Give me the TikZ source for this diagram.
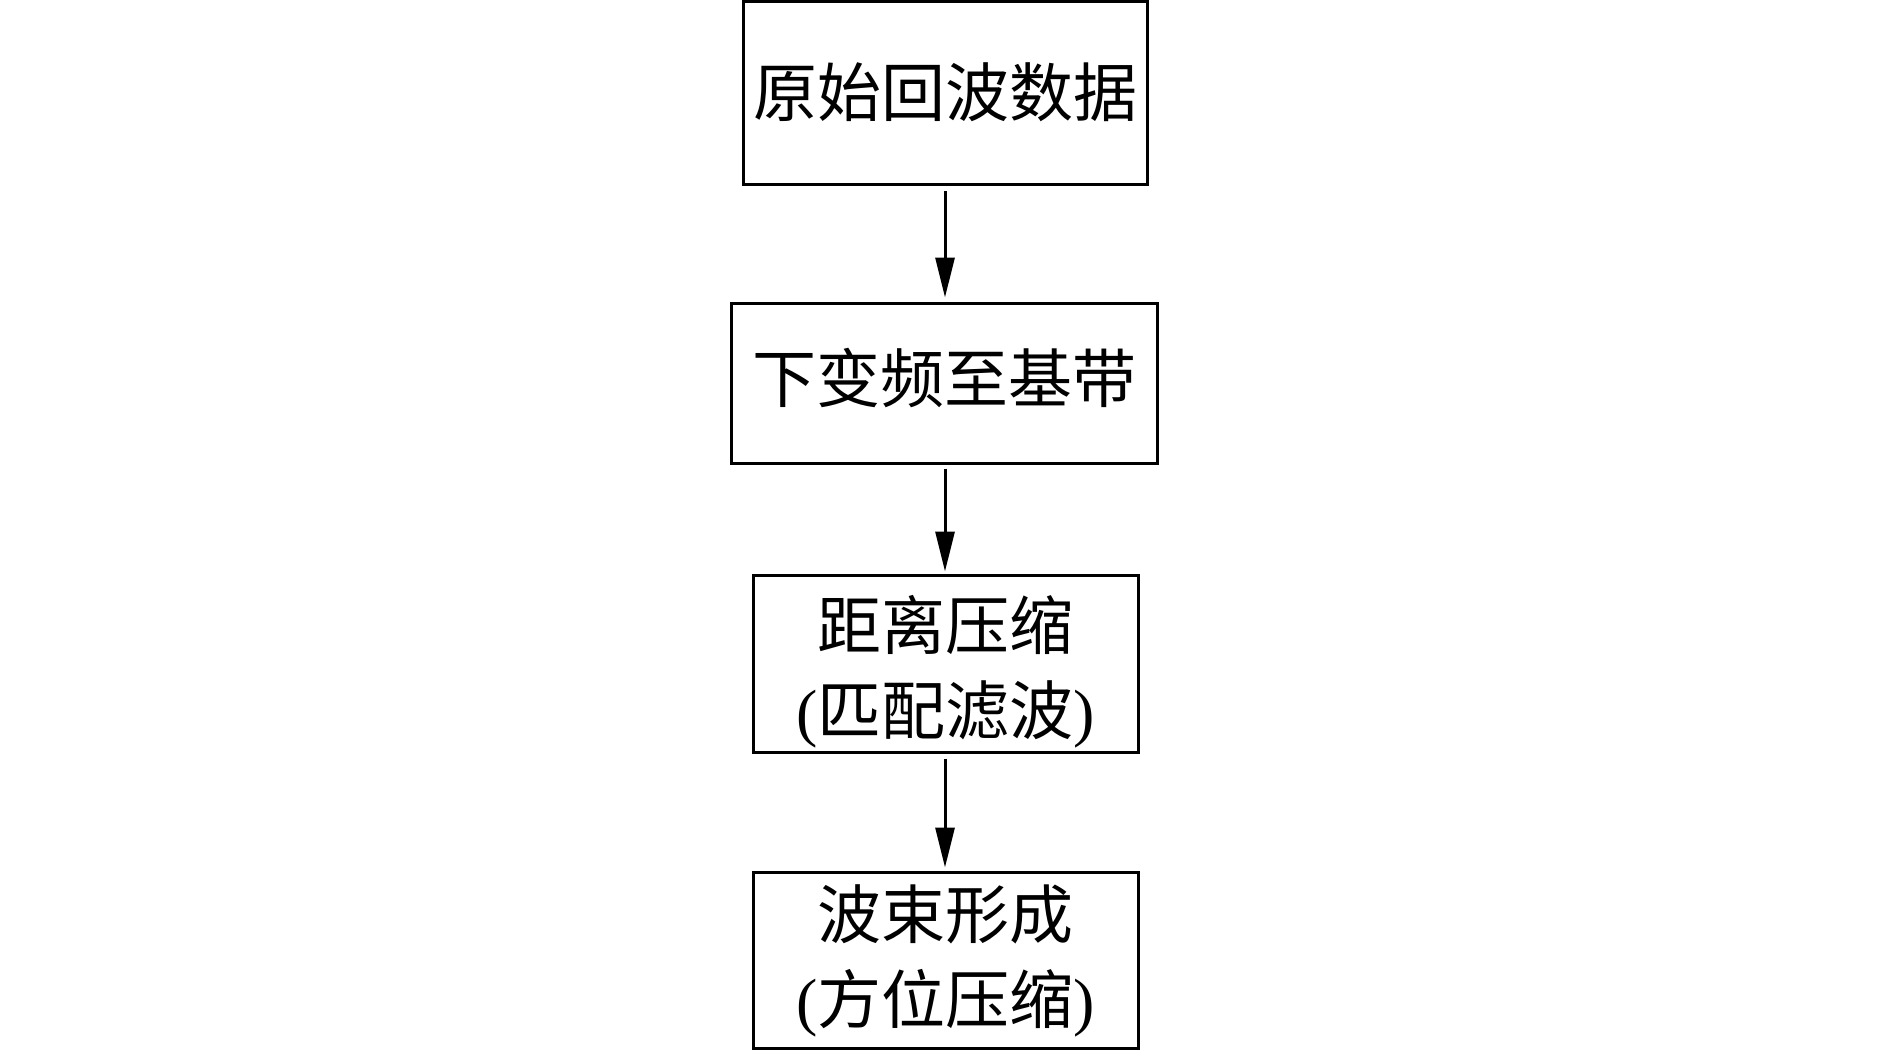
\documentclass[tikz,border=0pt]{standalone}
\usepackage{fontspec}
\setmainfont{Liberation Serif}
\newfontfamily\cjk{Noto Sans CJK SC}
\usetikzlibrary{arrows.meta}
\begin{document}
\begin{tikzpicture}[x=1pt,y=-1pt,
  stepbox/.style={draw,line width=3pt,inner sep=0pt},
  steptext/.style={inner sep=0pt,align=center,font=\fontsize{64}{85}\selectfont},
  flow/.style={line width=3pt,-{Triangle[length=40pt,width=19pt]}}]
\useasboundingbox (0,0) rectangle (1890,1051);
\node[stepbox,minimum width=404pt,minimum height=183pt] (b1) at (945,93.5) {};
\node[stepbox,minimum width=426pt,minimum height=160pt] (b2) at (944,383) {};
\node[stepbox,minimum width=385pt,minimum height=177pt] (b3) at (945.5,663.5) {};
\node[stepbox,minimum width=385pt,minimum height=176pt] (b4) at (945.5,960) {};
\node[steptext] (t1) at ([yshift=1pt]b1.center) {\cjk 原始回波数据};
\node[steptext] (t2) at ([yshift=5pt]b2.center) {\cjk 下变频至基带};
\node[steptext] (t3) at ([yshift=-8pt]b3.center) {{\cjk 距离压缩}\\({\cjk 匹配滤波})};
\node[steptext] (t4) at ([yshift=-1pt]b4.center) {{\cjk 波束形成}\\({\cjk 方位压缩})};
\draw[flow,shorten <=5pt,shorten >=4pt] (b1.south -| 945,0) -- (b2.north -| 945,0);
\draw[flow,shorten <=4pt,shorten >=2pt] (b2.south -| 945,0) -- (b3.north -| 945,0);
\draw[flow,shorten <=5pt,shorten >=3pt] (b3.south -| 945,0) -- (b4.north -| 945,0);
\end{tikzpicture}
\end{document}
